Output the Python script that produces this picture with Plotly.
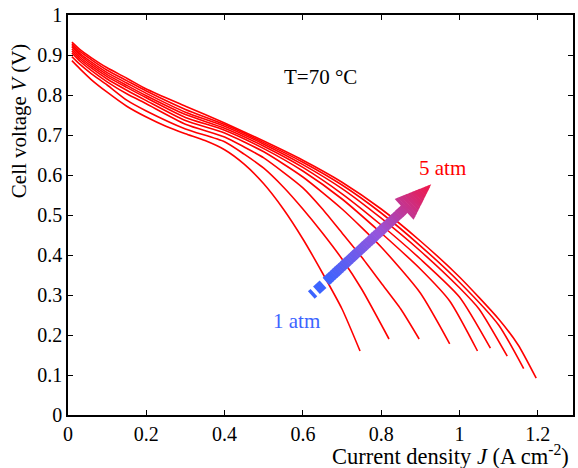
import math
import plotly.graph_objects as go

# ---------------- data ----------------
pressures = ["1 atm", "1.5 atm", "2 atm", "2.5 atm", "3 atm", "3.5 atm", "4 atm", "4.5 atm", "5 atm"]
J_base = [0.01, 0.03, 0.06, 0.1, 0.15, 0.2, 0.3, 0.4]

J1 = [0.01, 0.03, 0.06, 0.1, 0.15, 0.2, 0.25, 0.3, 0.35, 0.4, 0.45, 0.5, 0.55, 0.6, 0.65, 0.7, 0.746]
V1 = [0.886, 0.866, 0.838, 0.807, 0.772, 0.745, 0.722, 0.703, 0.686, 0.663, 0.627, 0.578, 0.515, 0.44, 0.355, 0.265, 0.16]

J2 = J_base + [0.45, 0.5, 0.55, 0.6, 0.65, 0.7, 0.75, 0.82]
V2 = [0.896, 0.877, 0.853, 0.825, 0.787, 0.76, 0.715, 0.683, 0.652, 0.617, 0.57, 0.515, 0.455, 0.39, 0.315, 0.19]

J3 = J_base + [0.45, 0.5, 0.6, 0.65, 0.7, 0.75, 0.8, 0.85, 0.897]
V3 = [0.905, 0.885, 0.861, 0.833, 0.803, 0.778, 0.727, 0.695, 0.67, 0.643, 0.568, 0.515, 0.455, 0.395, 0.33, 0.265, 0.19]

J4 = J_base + [0.5, 0.6, 0.7, 0.8, 0.9, 0.975]
V4 = [0.91, 0.89, 0.867, 0.84, 0.812, 0.786, 0.736, 0.705, 0.658, 0.595, 0.515, 0.42, 0.305, 0.178]

J5 = J_base + [0.5, 0.6, 0.7, 0.8, 0.9, 0.975, 1.046]
V5 = [0.915, 0.895, 0.872, 0.846, 0.819, 0.793, 0.744, 0.712, 0.666, 0.61, 0.54, 0.455, 0.365, 0.285, 0.16]

J6 = J_base + [0.5, 0.6, 0.7, 0.8, 0.9, 1.0, 1.079]
V6 = [0.92, 0.9, 0.877, 0.851, 0.824, 0.798, 0.751, 0.717, 0.672, 0.619, 0.553, 0.475, 0.39, 0.295, 0.167]

J7 = J_base + [0.5, 0.6, 0.7, 0.8, 0.9, 1.0, 1.05, 1.122]
V7 = [0.924, 0.904, 0.882, 0.856, 0.83, 0.804, 0.757, 0.722, 0.677, 0.626, 0.566, 0.492, 0.41, 0.318, 0.265, 0.147]

J8 = J_base + [0.5, 0.6, 0.7, 0.8, 0.9, 1.0, 1.1, 1.164]
V8 = [0.928, 0.909, 0.888, 0.862, 0.836, 0.81, 0.764, 0.726, 0.681, 0.632, 0.575, 0.505, 0.423, 0.332, 0.225, 0.116]

J9 = J_base + [0.5, 0.6, 0.7, 0.8, 0.9, 1.0, 1.1, 1.15, 1.196]
V9 = [0.932, 0.914, 0.893, 0.868, 0.842, 0.815, 0.772, 0.73, 0.685, 0.637, 0.582, 0.515, 0.435, 0.345, 0.24, 0.175, 0.092]

x_ticks = [0, 0.2, 0.4, 0.6, 0.8, 1.0, 1.2]
x_ticktext = ["0", "0.2", "0.4", "0.6", "0.8", "1", "1.2"]
y_ticks = [0, 0.1, 0.2, 0.3, 0.4, 0.5, 0.6, 0.7, 0.8, 0.9, 1.0]
y_ticktext = ["0", "0.1", "0.2", "0.3", "0.4", "0.5", "0.6", "0.7", "0.8", "0.9", "1"]

# ---------------- layout geometry ----------------
W, H = 578, 468
ML, MR, MT, MB = 68, 3, 15, 53
XMAX = 1.29
PW, PH = W - ML - MR, H - MT - MB


def p2d(px, py):
    return ((px - ML) / PW * XMAX, (H - MB - py) / PH * 1.0)


def p2paper(px, py):
    return ((px - ML) / PW, (H - MB - py) / PH)


FONT = "Liberation Serif, Times New Roman, Times, serif"
RED = "#ff0000"
BLUE = (60, 100, 255)
VIOLET = (150, 85, 220)
PINK = (242, 22, 70)

fig = go.Figure()
for J, V, name in zip([J1, J2, J3, J4, J5, J6, J7, J8, J9],
                      [V1, V2, V3, V4, V5, V6, V7, V8, V9], pressures):
    fig.add_trace(go.Scatter(x=J, y=V, mode="lines", name=name,
                             line=dict(color=RED, width=1.6, shape="spline", smoothing=0.6),
                             showlegend=False))

# ---------------- gradient arrow (decoration) ----------------
tail = (327.0, 281.5)
tip = (432.7, 184.3)
dx, dy = tip[0] - tail[0], tip[1] - tail[1]
L = math.hypot(dx, dy)
ux, uy = dx / L, dy / L
nx, ny = -uy, ux
head_len = 37.0
head_hw = 14.0
shaft_hw = 5.0


def col(t):
    t = max(0.0, min(1.0, t))
    if t < 0.5:
        a, b, f = BLUE, VIOLET, t / 0.5
    else:
        a, b, f = VIOLET, PINK, (t - 0.5) / 0.5
    return "rgb(%d,%d,%d)" % tuple(a[k] + (b[k] - a[k]) * f for k in range(3))


def quad(s0, s1, hw0, hw1, color):
    pts = []
    for s, hw, sign in [(s0, hw0, 1), (s1, hw1, 1), (s1, hw1, -1), (s0, hw0, -1)]:
        px = tail[0] + ux * s + nx * hw * sign
        py = tail[1] + uy * s + ny * hw * sign
        pts.append(p2d(px, py))
    path = "M %f,%f L %f,%f L %f,%f L %f,%f Z" % tuple(v for p in pts for v in p)
    fig.add_shape(type="path", path=path, xref="x", yref="y",
                  fillcolor=color, line=dict(width=0), layer="above")


shaft_end = L - head_len
N = 40
for i in range(N):
    s0 = shaft_end * i / N
    s1 = shaft_end * (i + 1) / N + 0.6
    quad(s0, s1, shaft_hw, shaft_hw, col((i + 0.5) / N * shaft_end / L))
NH = 12
for i in range(NH):
    s0 = shaft_end + head_len * i / NH
    s1 = shaft_end + head_len * (i + 1) / NH + (0.5 if i < NH - 1 else 0)
    hw0 = head_hw * (1 - i / NH)
    hw1 = head_hw * (1 - (i + 1) / NH) if i < NH - 1 else 0.01
    quad(s0, s1, hw0, hw1, col((s0 + s1) / 2 / L))

# broken tail (dashes)
quad(-13.0, -4.0, shaft_hw, shaft_hw, col(0.0))
quad(-20.0, -16.5, shaft_hw, shaft_hw, col(0.0))

# ---------------- annotations ----------------
def ann(text, px, py, color="black", size=19, angle=0):
    x, y = p2paper(px, py)
    fig.add_annotation(x=x, y=y, xref="paper", yref="paper", text=text, showarrow=False,
                       font=dict(family=FONT, size=size, color=color),
                       textangle=angle, xanchor="center", yanchor="middle")


ann("T=70 °C", 321, 77, size=21)
ann("5 atm", 444, 168, color=RED, size=21)
ann("1 atm", 297, 321, color="rgb(%d,%d,%d)" % BLUE, size=21)
ann("Current density <i>J</i> (A cm<sup>-2</sup>)", 452, 455, size=22.5)
ann("Cell voltage <i>V</i> (V)", 19, 121, size=21, angle=-90)

axis_common = dict(showline=True, linecolor="black", linewidth=1.5, mirror="ticks",
                   ticks="inside", ticklen=5, tickwidth=1, tickcolor="black",
                   showgrid=False, zeroline=False,
                   tickfont=dict(family=FONT, size=20, color="black"))

fig.update_layout(
    width=W, height=H, autosize=False,
    margin=dict(l=ML, r=MR, t=MT, b=MB),
    paper_bgcolor="white", plot_bgcolor="white",
    font=dict(family=FONT),
    xaxis=dict(range=[0, XMAX], tickvals=x_ticks, ticktext=x_ticktext, **axis_common),
    yaxis=dict(range=[0, 1.0], tickvals=y_ticks, ticktext=y_ticktext, **axis_common),
)

fig.write_html("out.html")
